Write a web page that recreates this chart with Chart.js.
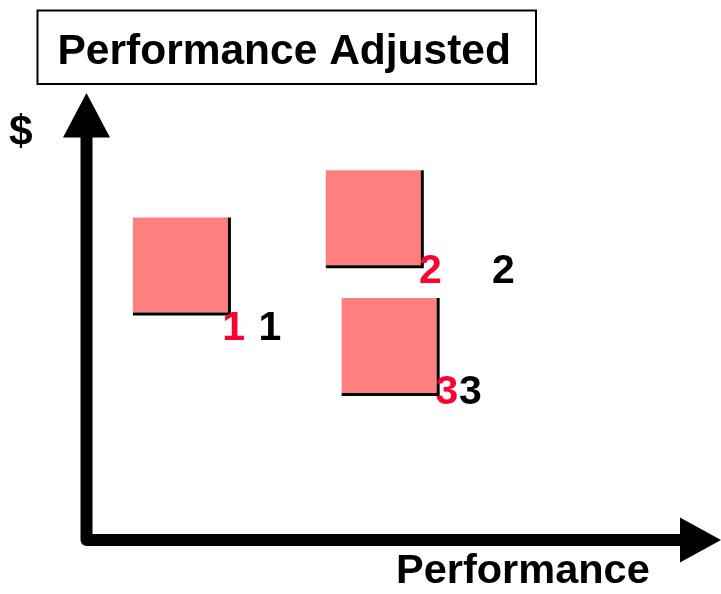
<!DOCTYPE html>
<html>
<head>
<meta charset="utf-8">
<script src="https://cdn.jsdelivr.net/npm/chart.js@4/dist/chart.umd.min.js"></script>
<style>
  html, body { margin: 0; padding: 0; background: #ffffff; }
  canvas { display: block; }
</style>
</head>
<body>
<canvas id="chart" width="721" height="594"></canvas>
<script>
// Identifiers of the three positions
const pointIds = ['1', '2', '3'];

// Centres of the shaded squares (performance, $)
const squareX = [14.8, 45.2, 47.7];
const squareY = [61.5, 72.1, 43.5];

// Anchor of the red identifier next to each square
const redLabelX = [21.4, 52.4, 55.0];
const redLabelY = [44.7, 57.5, 30.4];

// Anchor of the black identifier for each position
const blackLabelX = [27.1, 63.9, 58.7];
const blackLabelY = [44.7, 57.5, 30.4];

// Texts
const chartTitle = 'Performance Adjusted';
const xAxisTitle = 'Performance';
const yAxisTitle = '$';

const FONT_FAMILY = '"Liberation Sans", Arial, Helvetica, sans-serif';
const SQUARE_SIDE = 95;
const PINK = '#ff7f7f';
const RED = '#ff0033';

const toPoints = (xs, ys) => xs.map((x, i) => ({ x: x, y: ys[i] }));

// Thick black axes ending in arrowheads
const arrowAxes = {
  id: 'arrowAxes',
  beforeDatasetsDraw(chart) {
    const ctx = chart.ctx;
    const xs = chart.scales.x, ys = chart.scales.y;
    const x0 = xs.getPixelForValue(xs.min);
    const y0 = ys.getPixelForValue(ys.min);
    const top = ys.getPixelForValue(ys.max);
    const right = xs.getPixelForValue(xs.max);
    const headLen = 44, headHalf = 23;
    ctx.save();
    ctx.strokeStyle = '#000';
    ctx.fillStyle = '#000';
    ctx.lineWidth = 12;
    ctx.lineJoin = 'round';
    ctx.lineCap = 'butt';
    ctx.beginPath();
    ctx.moveTo(x0, top + headLen - 1);
    ctx.lineTo(x0, y0);
    ctx.lineTo(right - 41 + 1, y0);
    ctx.stroke();
    // up arrowhead
    ctx.beginPath();
    ctx.moveTo(x0, top);
    ctx.lineTo(x0 + headHalf + 0.5, top + headLen + 0.5);
    ctx.lineTo(x0 - headHalf - 0.5, top + headLen + 0.5);
    ctx.closePath();
    ctx.fill();
    // right arrowhead
    ctx.beginPath();
    ctx.moveTo(right, y0);
    ctx.lineTo(right - 41, y0 - 22.5);
    ctx.lineTo(right - 41, y0 + 22.5);
    ctx.closePath();
    ctx.fill();
    ctx.restore();
  }
};

// Dark edge along the right and bottom of each square, plus identifiers
const squareDecor = {
  id: 'squareDecor',
  afterDatasetsDraw(chart) {
    const ctx = chart.ctx;
    const half = SQUARE_SIDE / 2;
    ctx.save();
    const squares = chart.getDatasetMeta(0).data;
    ctx.strokeStyle = '#000';
    ctx.lineWidth = 3;
    squares.forEach(el => {
      ctx.beginPath();
      ctx.moveTo(el.x + half + 1.5, el.y - half);
      ctx.lineTo(el.x + half + 1.5, el.y + half + 3);
      ctx.moveTo(el.x - half, el.y + half + 1.5);
      ctx.lineTo(el.x + half + 1.5, el.y + half + 1.5);
      ctx.stroke();
    });
    ctx.font = 'bold 41px ' + FONT_FAMILY;
    ctx.textAlign = 'left';
    ctx.textBaseline = 'alphabetic';
    [[1, RED], [2, '#000']].forEach(([idx, color]) => {
      ctx.fillStyle = color;
      chart.getDatasetMeta(idx).data.forEach((el, i) => {
        ctx.fillText(pointIds[i], el.x, el.y);
      });
    });
    ctx.restore();
  }
};

// Boxed heading and axis names
const headings = {
  id: 'headings',
  beforeDraw(chart) {
    const ctx = chart.ctx;
    ctx.save();
    ctx.fillStyle = '#fff';
    ctx.fillRect(0, 0, chart.width, chart.height);
    ctx.restore();
  },
  afterDraw(chart) {
    const ctx = chart.ctx;
    ctx.save();
    ctx.strokeStyle = '#000';
    ctx.lineWidth = 2;
    ctx.strokeRect(37.5, 10.5, 498.5, 73.5);
    ctx.fillStyle = '#000';
    ctx.textAlign = 'left';
    ctx.textBaseline = 'alphabetic';
    ctx.font = 'bold 42.5px ' + FONT_FAMILY;
    ctx.fillText(chartTitle, 57.5, 64);
    ctx.fillText(yAxisTitle, 9, 145);
    ctx.font = 'bold 41.5px ' + FONT_FAMILY;
    ctx.fillText(xAxisTitle, 396, 583);
    ctx.restore();
  }
};

new Chart(document.getElementById('chart'), {
  type: 'scatter',
  data: {
    datasets: [
      {
        data: toPoints(squareX, squareY),
        pointStyle: 'rect',
        pointRadius: SQUARE_SIDE / Math.SQRT2,
        pointHoverRadius: SQUARE_SIDE / Math.SQRT2,
        backgroundColor: PINK,
        borderWidth: 0,
        clip: false
      },
      {
        data: toPoints(redLabelX, redLabelY),
        pointRadius: 0,
        pointHoverRadius: 0,
        clip: false
      },
      {
        data: toPoints(blackLabelX, blackLabelY),
        pointRadius: 0,
        pointHoverRadius: 0,
        clip: false
      }
    ]
  },
  options: {
    responsive: false,
    animation: false,
    events: [],
    layout: {
      autoPadding: false,
      padding: { left: 86.5, top: 93, right: 0, bottom: 54 }
    },
    scales: {
      x: { type: 'linear', min: 0, max: 100, display: false },
      y: { type: 'linear', min: 0, max: 100, display: false }
    },
    plugins: {
      legend: { display: false },
      tooltip: { enabled: false },
      title: { display: false }
    }
  },
  plugins: [headings, arrowAxes, squareDecor]
});
</script>
</body>
</html>
